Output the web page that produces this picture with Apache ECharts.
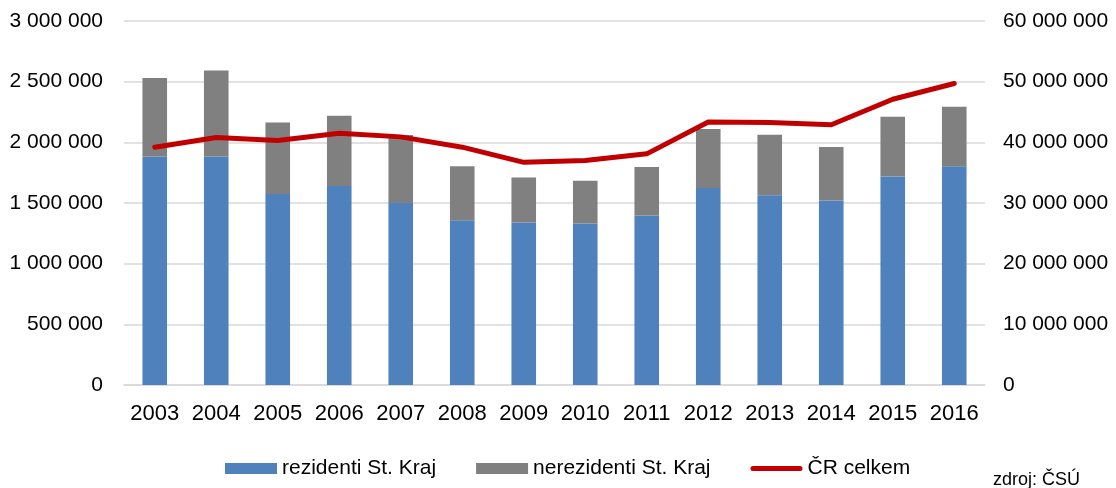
<!DOCTYPE html>
<html>
<head>
<meta charset="utf-8">
<script src="https://cdn.jsdelivr.net/npm/echarts@6/dist/echarts.min.js"></script>
<style>
  html, body { margin: 0; padding: 0; background: #fff; }
  #chart { width: 1116px; height: 488px; }
</style>
</head>
<body>
<div id="chart"></div>
<script>
  // roky
  var years = ['2003', '2004', '2005', '2006', '2007', '2008', '2009', '2010', '2011', '2012', '2013', '2014', '2015', '2016']
  // rezidenti St. Kraj (levá osa)
  var rezidenti = [1884000, 1884000, 1574000, 1640000, 1500000, 1357000, 1340000, 1332000, 1398000, 1624000, 1563000, 1521000, 1719000, 1802000]
  // nerezidenti St. Kraj (levá osa, skládané)
  var nerezidenti = [646000, 709000, 590000, 580000, 560000, 445000, 371000, 352000, 399000, 486000, 500000, 441000, 492000, 492000]
  // ČR celkem (pravá osa)
  var crCelkem = [39200000, 40800000, 40300000, 41500000, 40900000, 39200000, 36700000, 37000000, 38100000, 43350000, 43250000, 42900000, 47100000, 49700000]

  var fontFamily = '"Liberation Sans", Arial, sans-serif'

  function fmt (v) {
    return String(v).replace(/\B(?=(\d{3})+(?!\d))/g, ' ')
  }

  var chart = echarts.init(document.getElementById('chart'))
  var option = {
    backgroundColor: '#ffffff',
    animation: false,
    textStyle: { fontFamily: fontFamily },
    grid: {
      left: 124,
      right: 131,
      top: 21,
      bottom: 103,
      containLabel: false
    },
    legend: {
      left: 220,
      top: 453,
      itemWidth: 52,
      itemHeight: 11,
      itemGap: 40,
      textStyle: { fontSize: 21, color: '#000', fontFamily: fontFamily },
      data: [
        { name: 'rezidenti St. Kraj', icon: 'rect' },
        { name: 'nerezidenti St. Kraj', icon: 'rect' },
        { name: 'ČR celkem', icon: 'path://M2.5,0 L49.5,0 A2.5,2.5 0 0 1 49.5,5 L2.5,5 A2.5,2.5 0 0 1 2.5,0 Z' }
      ]
    },
    graphic: [
      {
        type: 'text',
        left: 993,
        top: 471,
        style: { text: 'zdroj: ČSÚ', fontSize: 18, fill: '#000', fontFamily: fontFamily }
      }
    ],
    xAxis: [
      {
        type: 'category',
        data: years,
        axisLine: { lineStyle: { color: '#d9d9d9', width: 1.5 } },
        axisTick: { show: false },
        axisLabel: { color: '#000', fontSize: 22, margin: 18, interval: 0, fontFamily: fontFamily }
      }
    ],
    yAxis: [
      {
        type: 'value',
        min: 0,
        max: 3000000,
        interval: 500000,
        axisLine: { show: false },
        axisTick: { show: false },
        splitLine: { lineStyle: { color: '#d9d9d9', width: 1.5 } },
        axisLabel: { color: '#000', fontSize: 21, margin: 21, formatter: fmt, fontFamily: fontFamily }
      },
      {
        type: 'value',
        min: 0,
        max: 60000000,
        interval: 10000000,
        axisLine: { show: false },
        axisTick: { show: false },
        splitLine: { show: false },
        axisLabel: { color: '#000', fontSize: 21, margin: 18, formatter: fmt, fontFamily: fontFamily }
      }
    ],
    series: [
      {
        name: 'rezidenti St. Kraj',
        type: 'bar',
        stack: 'kraj',
        barWidth: '40%',
        itemStyle: { color: '#4f81bd' },
        data: rezidenti
      },
      {
        name: 'nerezidenti St. Kraj',
        type: 'bar',
        stack: 'kraj',
        barWidth: '40%',
        itemStyle: { color: '#808080' },
        data: nerezidenti
      },
      {
        name: 'ČR celkem',
        type: 'line',
        yAxisIndex: 1,
        symbol: 'none',
        smooth: false,
        itemStyle: { color: '#c00000' },
        lineStyle: { color: '#c00000', width: 5, cap: 'round', join: 'round' },
        data: crCelkem
      }
    ]
  }
  chart.setOption(option)
</script>
</body>
</html>
